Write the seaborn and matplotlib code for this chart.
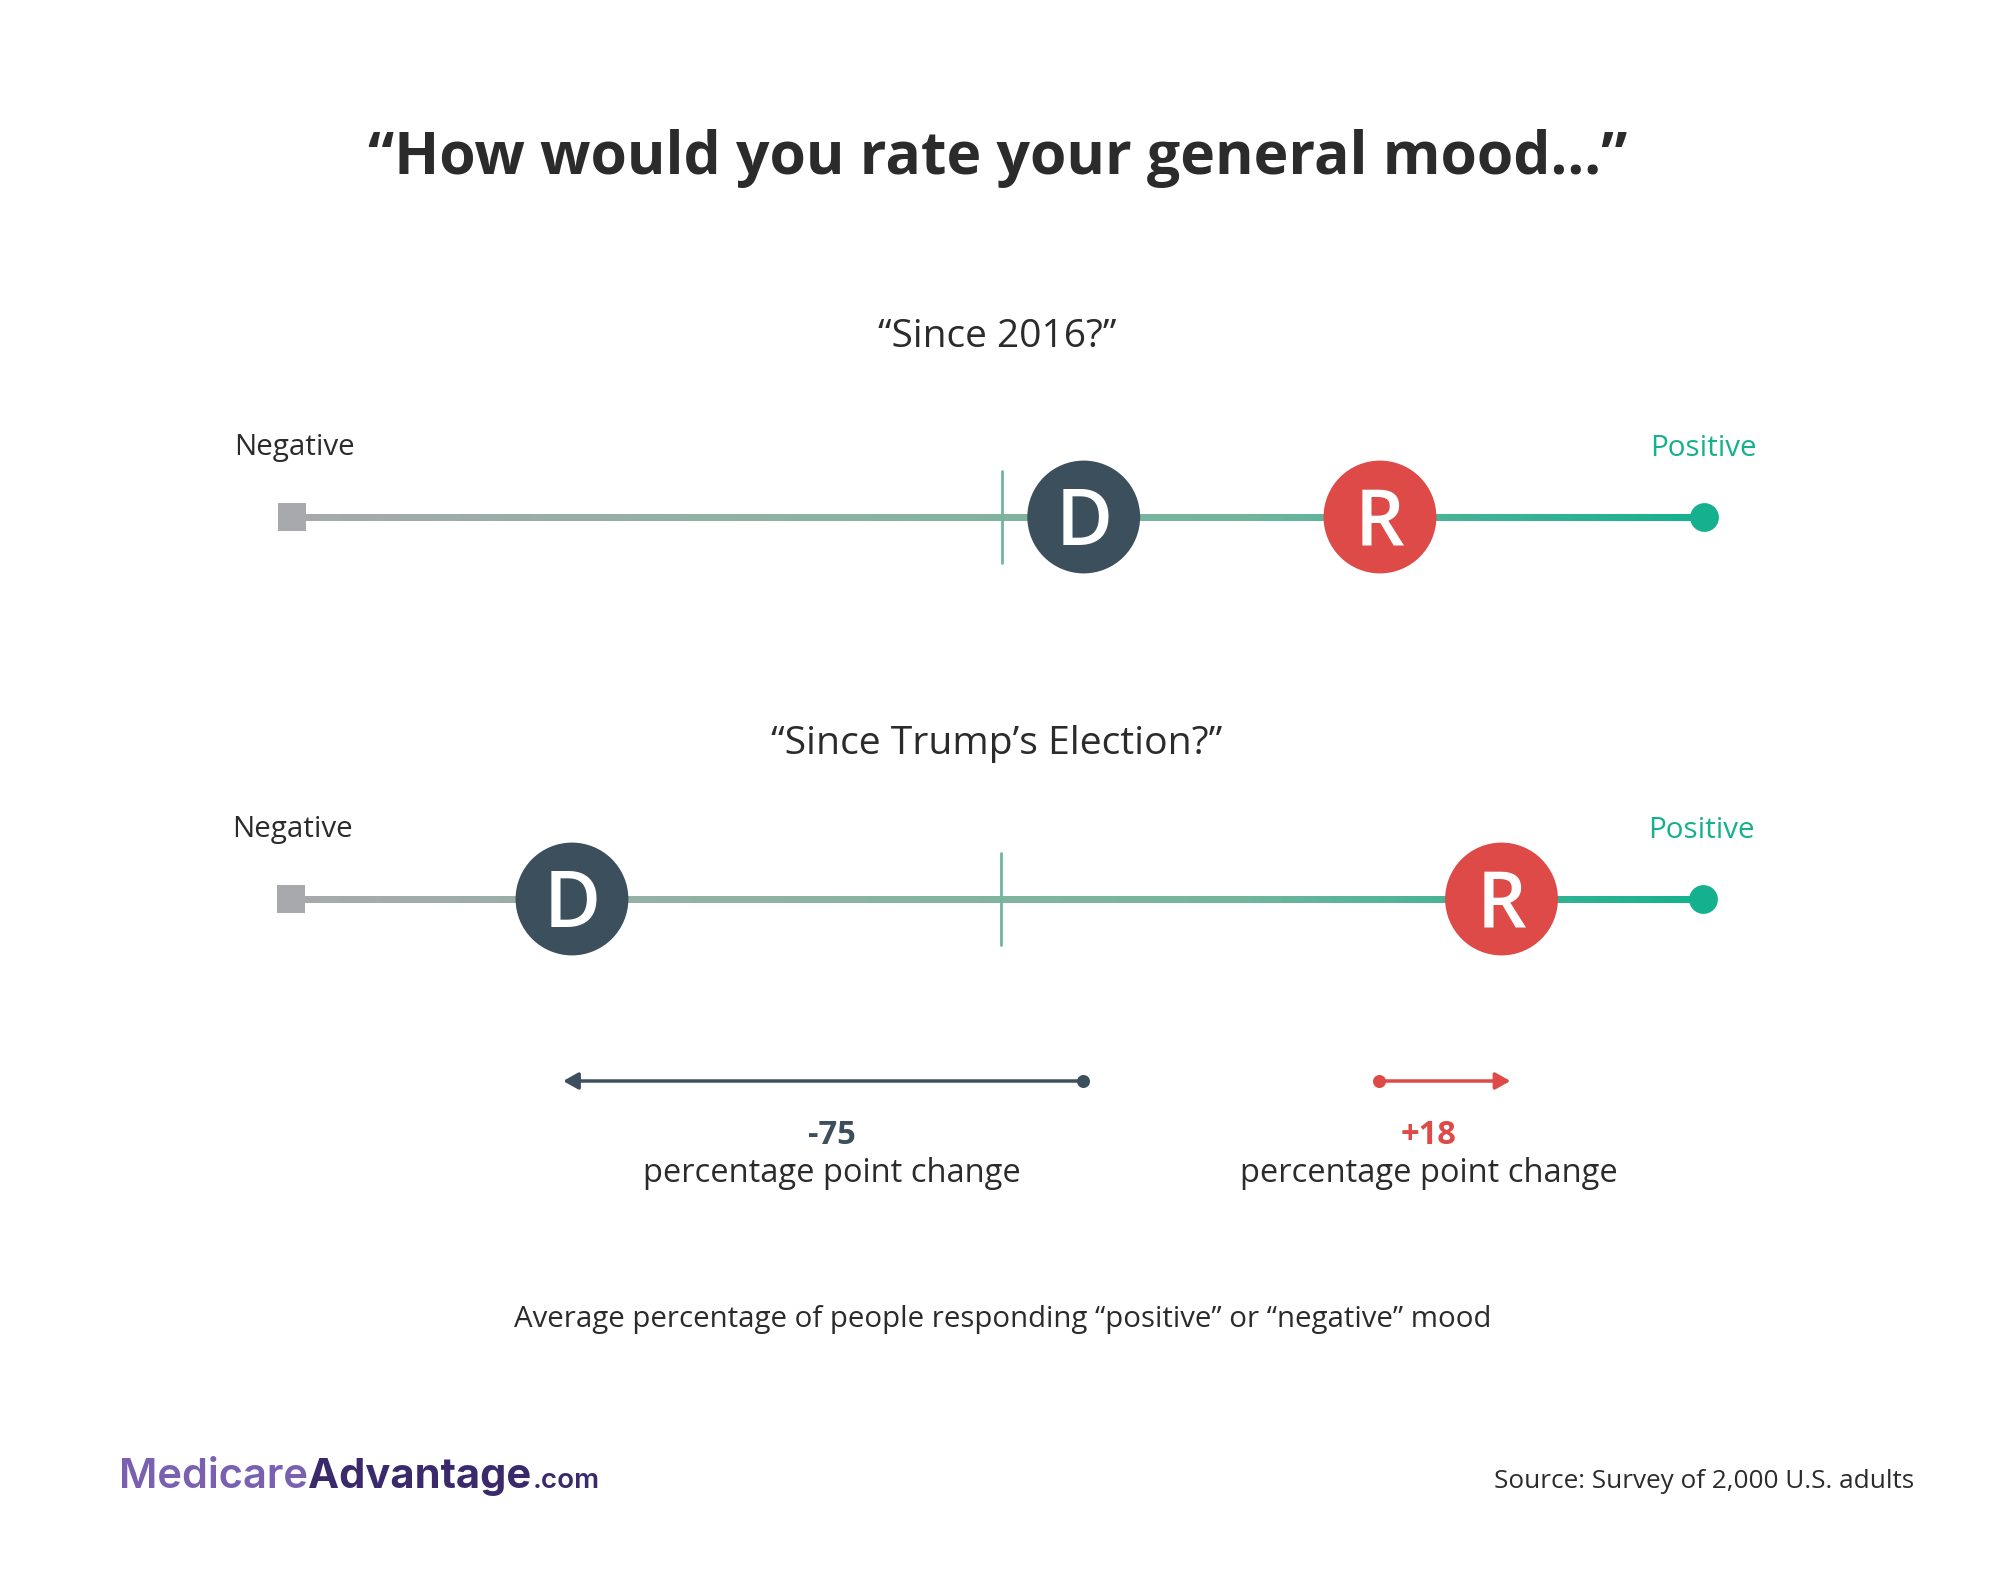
import matplotlib.pyplot as plt
import numpy as np
import pandas as pd
import seaborn as sns
from matplotlib.collections import LineCollection

# values on the negative/positive scale
parties = ["D", "R"]
since_2016 = [12, 55.5]
since_election = [-63, 73.5]
changes = [-75, 18]
change_labels = ["-75", "+18"]
scale_ends = [-104.2, 103.1]

PARTY_COLORS = {"D": "#3c4f5c", "R": "#dd4a48"}
GRAY = "#a7a9ac"
GREEN = "#15b18e"
TICK_GREEN = "#6fb79d"
TEXT = "#2b2b2b"
W, H = 2000, 1570
PX_PER_UNIT = 6.81

sns.set_theme(style="white")
plt.rcParams["font.family"] = ["Open Sans", "DejaVu Sans"]

fig = plt.figure(figsize=(W / 100, H / 100), dpi=100, facecolor="white")


def put_text(x, y, s, **kwargs):
    kwargs.setdefault("color", TEXT)
    kwargs.setdefault("ha", "center")
    kwargs.setdefault("va", "center")
    fig.text(x / W, 1 - y / H, s, **kwargs)


def row_axes(center, y):
    half_w = 110 * PX_PER_UNIT
    ax = fig.add_axes([(center - half_w) / W, 1 - (y + 100) / H, 2 * half_w / W, 200 / H])
    ax.set_xlim(-110, 110)
    ax.set_ylim(-100, 100)
    ax.axis("off")
    return ax


def draw_scale(ax, values):
    xs = np.linspace(scale_ends[0], scale_ends[1], 200)
    segments = [[(a, 0), (b, 0)] for a, b in zip(xs[:-1], xs[1:])]
    ramp = sns.blend_palette([GRAY, "#8fb2a4", "#74b59d", GREEN], len(segments))
    ax.add_collection(LineCollection(segments, colors=ramp, linewidths=5, capstyle="projecting", zorder=1))
    ax.plot([0, 0], [-46, 46], color=TICK_GREEN, lw=2, zorder=2)
    ax.scatter([scale_ends[0]], [0], marker="s", s=430, color=GRAY, linewidths=0, zorder=3)
    ax.scatter([scale_ends[1]], [0], marker="o", s=430, color=GREEN, linewidths=0, zorder=3)

    df = pd.DataFrame({"party": parties, "value": values, "y": [0, 0]})
    sns.scatterplot(data=df, x="value", y="y", hue="party", palette=PARTY_COLORS,
                    s=6600, linewidth=0, legend=False, zorder=4, ax=ax, clip_on=False)
    ax.set_xlim(-110, 110)
    ax.set_ylim(-100, 100)
    ax.axis("off")
    for party, value in zip(parties, values):
        ax.annotate(party, xy=(value, 0), xytext=(0, -20), textcoords="offset points",
                    ha="center", va="baseline", color="white", fontsize=56,
                    fontweight="semibold", zorder=5)


put_text(998, 158, "“How would you rate your general mood...”", fontsize=42.4, fontweight="bold")

put_text(997, 337, "“Since 2016?”", fontsize=28)
put_text(234, 448, "Negative", ha="left", fontsize=21.3)
put_text(1757, 449, "Positive", ha="right", fontsize=21.3, color=GREEN)
draw_scale(row_axes(1002, 517), since_2016)

put_text(997, 744, "“Since Trump’s Election?”", fontsize=28.2)
put_text(232, 830, "Negative", ha="left", fontsize=21.3)
put_text(1755, 830, "Positive", ha="right", fontsize=21.3, color=GREEN)
draw_scale(row_axes(1001, 899), since_election)

# change arrows run from the 2016 position to the post election position
ax_arrows = row_axes(1001, 1081)
for party, start, end in zip(parties, since_2016, since_election):
    color = PARTY_COLORS[party]
    tip = end + np.sign(end - start) * 1.3
    ax_arrows.annotate("", xy=(tip, 0), xytext=(start, 0),
                       arrowprops=dict(arrowstyle="-|>,head_length=0.5,head_width=0.28", color=color,
                                       lw=2.5, shrinkA=0, shrinkB=0, mutation_scale=18))
    ax_arrows.scatter([start], [0], s=88, color=color, linewidths=0, zorder=3)

for x, label, party in zip([832, 1429], change_labels, parties):
    put_text(x, 1135, label, fontsize=23.5, fontweight="bold", color=PARTY_COLORS[party])
    put_text(x, 1174, "percentage point change", fontsize=23.5)

put_text(1003, 1319, "Average percentage of people responding “positive” or “negative” mood", fontsize=21.2)
put_text(1914, 1481, "Source: Survey of 2,000 U.S. adults", ha="right", fontsize=18.8)

# logo wordmark
put_text(119, 1488, "Medicare", ha="left", va="baseline", fontsize=30, fontweight="semibold",
         family="Inter", color="#7a60b0")
put_text(308, 1488, "Advantage", ha="left", va="baseline", fontsize=30, fontweight="bold",
         family="Inter", color="#3a2a6c")
put_text(533, 1488, ".com", ha="left", va="baseline", fontsize=20, fontweight="semibold",
         family="Inter", color="#3a2a6c")

fig.savefig("out.png", dpi=100)
